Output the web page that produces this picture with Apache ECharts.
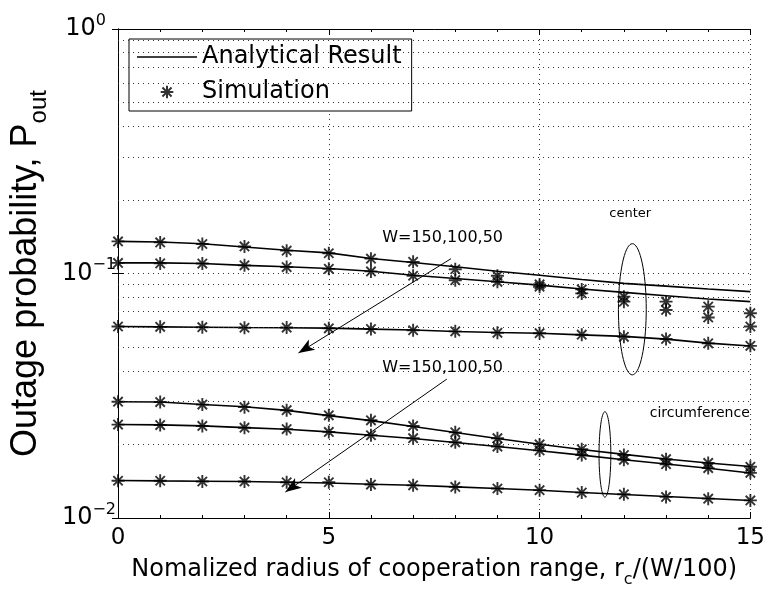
<!DOCTYPE html>
<html>
<head>
<meta charset="utf-8">
<script src="https://cdn.jsdelivr.net/npm/echarts@6/dist/echarts.min.js"></script>
<style>
  html, body { margin: 0; padding: 0; background: #fff; }
  #chart { width: 768px; height: 593px; }
</style>
</head>
<body>
<div id="chart"></div>
<script>
// normalized radius r_c/(W/100)
const radius = [0, 1, 2, 3, 4, 5, 6, 7, 8, 9, 10, 11, 12, 13, 14, 15]

// center: analytical / simulation for W = 150, 100, 50
const cenA150 = [0.1353, 0.1346, 0.1324, 0.1284, 0.1244, 0.1214, 0.1151, 0.1109, 0.1065, 0.1022, 0.0984, 0.0945, 0.0911, 0.0888, 0.0864, 0.0843]
const cenS150 = [0.1353, 0.1340, 0.1320, 0.1290, 0.1240, 0.1210, 0.1150, 0.1116, 0.1041, 0.0979, 0.0902, 0.0861, 0.0804, 0.0767, 0.0732, 0.0688]
const cenA100 = [0.1105, 0.1105, 0.1098, 0.1080, 0.1065, 0.1048, 0.1022, 0.0984, 0.0954, 0.0925, 0.0896, 0.0864, 0.0837, 0.0811, 0.0786, 0.0767]
const cenS100 = [0.1105, 0.1100, 0.1098, 0.1080, 0.1062, 0.1045, 0.1020, 0.0979, 0.0939, 0.0925, 0.0883, 0.0829, 0.0767, 0.0709, 0.0661, 0.0607]
const cenA50 = [0.0607, 0.0605, 0.0603, 0.0601, 0.0600, 0.0598, 0.0592, 0.0587, 0.0579, 0.0574, 0.0570, 0.0561, 0.0553, 0.0539, 0.0519, 0.0505]
const cenS50 = [0.0607, 0.0605, 0.0603, 0.0600, 0.0601, 0.0597, 0.0593, 0.0586, 0.0580, 0.0572, 0.0570, 0.0562, 0.0551, 0.0540, 0.0518, 0.0506]

// circumference: analytical / simulation for W = 150, 100, 50
const cirA150 = [0.02989, 0.02980, 0.02914, 0.02852, 0.02755, 0.02622, 0.02502, 0.02366, 0.02237, 0.02114, 0.02004, 0.01907, 0.01820, 0.01742, 0.01678, 0.01623]
const cirS150 = [0.0299, 0.0298, 0.0291, 0.0284, 0.0276, 0.0263, 0.0251, 0.0238, 0.0224, 0.0212, 0.0200, 0.0191, 0.0181, 0.0174, 0.0168, 0.0162]
const cirA100 = [0.02411, 0.02404, 0.02381, 0.02343, 0.02307, 0.02251, 0.02181, 0.02114, 0.02036, 0.01962, 0.01885, 0.01808, 0.01732, 0.01662, 0.01597, 0.01528]
const cirS100 = [0.0241, 0.0240, 0.0238, 0.0234, 0.0231, 0.0225, 0.0218, 0.0212, 0.0204, 0.0196, 0.0189, 0.0181, 0.0173, 0.0166, 0.0160, 0.0153]
const cirA50 = [0.01423, 0.01418, 0.01414, 0.01410, 0.01400, 0.01391, 0.01374, 0.01361, 0.01340, 0.01320, 0.01299, 0.01272, 0.01248, 0.01225, 0.01202, 0.01180]
const cirS50 = [0.0142, 0.0142, 0.0141, 0.0141, 0.0140, 0.0140, 0.0137, 0.0136, 0.0134, 0.0132, 0.0130, 0.0127, 0.0125, 0.0122, 0.0120, 0.0118]

// minor log grid lines
const yMinorGrid = [0.02, 0.03, 0.04, 0.05, 0.06, 0.07, 0.08, 0.09, 0.2, 0.3, 0.4, 0.5, 0.6, 0.7, 0.8, 0.9]

// annotations (data coords)
const arrowUpper = [[7.9, 0.115], [4.28, 0.0473]]
const arrowLower = [[7.8, 0.0370], [3.97, 0.01276]]
const labelW = 'W=150,100,50'
const labelUpperPos = [7.7, 0.1400]
const labelLowerPos = [7.7, 0.0411]
const labelCenterPos = [12.15, 0.176]
const labelCircPos = [13.8, 0.0267]
// ellipses: [x, yTop, yBottom, half width in x units]
const ellipses = [[12.2, 0.1324, 0.0385, 0.33], [11.55, 0.0272, 0.01217, 0.14]]

const FONT = 'DejaVu Sans'
const STAR = 'path://M0,-1L0,1M-1,0L1,0M-0.72,-0.72L0.72,0.72M-0.72,0.72L0.72,-0.72'
const STAR_LEGEND = 'path://M-1.9,-1.9M1.9,1.9M0,-1L0,1M-1,0L1,0M-0.72,-0.72L0.72,0.72M-0.72,0.72L0.72,-0.72'
const LINE_LEGEND = 'path://M0,0L60,0L60,1.6L0,1.6Z'

const pairs = (ys) => radius.map((x, i) => [x, ys[i]])

const lineSeries = (ys) => ({
  name: 'Analytical Result',
  type: 'line',
  data: pairs(ys),
  symbol: 'none',
  lineStyle: { color: '#000', width: 1.6 },
  itemStyle: { color: '#000' },
  z: 3
})

const simSeries = (ys) => ({
  name: 'Simulation',
  type: 'scatter',
  data: pairs(ys),
  symbol: STAR,
  symbolSize: 13,
  itemStyle: { color: 'rgba(0,0,0,0)', borderColor: '#000', borderWidth: 1.9 },
  z: 4
})

// 10^e labels; the base "10" stays aligned, so a short exponent gets right padding
const supFmt = (v) => {
  const e = Math.round(Math.log10(v))
  return e < 0 ? '10{sup|\u2212' + (-e) + '}' : '10{supPad|' + e + '}'
}

const chart = echarts.init(document.getElementById('chart'))

const option = {
  animation: false,
  textStyle: { fontFamily: FONT },
  grid: { left: 117, right: 16, top: 29, bottom: 72 },
  legend: {
    left: 129,
    top: 39,
    orient: 'vertical',
    data: [
      { name: 'Analytical Result', icon: LINE_LEGEND },
      { name: 'Simulation', icon: STAR_LEGEND }
    ],
    backgroundColor: '#fff',
    borderColor: '#000',
    borderWidth: 1,
    padding: [6, 10, 6, 8],
    itemGap: 10,
    itemWidth: 60,
    itemHeight: 24,
    textStyle: { fontSize: 24, color: '#000', fontFamily: FONT }
  },
  xAxis: [{
    type: 'value',
    min: 0,
    max: 15,
    interval: 5,
    name: 'Nomalized radius of cooperation range, r{sub|c}/(W/100)',
    nameLocation: 'middle',
    nameGap: 34,
    nameTextStyle: {
      fontSize: 24, color: '#000', fontFamily: FONT,
      rich: { sub: { fontSize: 16, padding: [20, 0, 0, 0], fontFamily: FONT, color: '#000' } }
    },
    axisLine: { lineStyle: { color: '#000', width: 1 } },
    axisTick: { inside: true, length: 6, lineStyle: { color: '#000' } },
    minorTick: { show: true, splitNumber: 5, length: 3, lineStyle: { color: '#000' } },
    axisLabel: { fontSize: 23, color: '#000', margin: 9, fontFamily: FONT },
    splitLine: { show: true, lineStyle: { color: '#333', type: [1, 4], width: 1 } }
  }, {
    type: 'value',
    position: 'top',
    min: 0,
    max: 15,
    interval: 5,
    axisLine: { show: true, lineStyle: { color: '#000', width: 1 } },
    axisTick: { inside: true, length: 6, lineStyle: { color: '#000' } },
    minorTick: { show: true, splitNumber: 5, length: 3, lineStyle: { color: '#000' } },
    axisLabel: { show: false },
    splitLine: { show: false }
  }],
  yAxis: [{
    type: 'log',
    logBase: 10,
    min: 0.01,
    max: 1,
    name: 'Outage probability, P{sub|out}',
    nameLocation: 'middle',
    nameRotate: 90,
    nameGap: 60,
    nameTextStyle: {
      fontSize: 36, color: '#000', fontFamily: 'Liberation Sans',
      rich: { sub: { fontSize: 24, padding: [26, 0, 0, 0], fontFamily: 'Liberation Sans', color: '#000' } }
    },
    axisLine: { show: true, lineStyle: { color: '#000', width: 1 } },
    axisTick: { inside: true, length: 6, lineStyle: { color: '#000' } },
    axisLabel: {
      color: '#000',
      margin: 2,
      formatter: supFmt,
      rich: {
        sup: { fontSize: 16, padding: [0, 0, 17, 0], fontFamily: FONT, color: '#000' },
        supPad: { fontSize: 16, padding: [0, 10, 17, 0], fontFamily: FONT, color: '#000' }
      },
      fontSize: 24,
      fontFamily: FONT
    },
    splitLine: { show: true, lineStyle: { color: '#333', type: [1, 4], width: 1 } }
  }, {
    type: 'log',
    logBase: 10,
    min: 0.01,
    max: 1,
    position: 'right',
    axisLine: { show: true, lineStyle: { color: '#000', width: 1 } },
    axisTick: { inside: true, length: 6, lineStyle: { color: '#000' } },
    axisLabel: { show: false },
    splitLine: { show: false }
  }],
  series: [
    {
      name: 'grid',
      type: 'line',
      data: [],
      silent: true,
      markLine: {
        silent: true,
        symbol: ['none', 'none'],
        label: { show: false },
        lineStyle: { color: '#333', type: [1, 4], width: 1 },
        data: yMinorGrid.map(v => ({ yAxis: v }))
      },
      z: 1
    },
    lineSeries(cenA150), lineSeries(cenA100), lineSeries(cenA50),
    lineSeries(cirA150), lineSeries(cirA100), lineSeries(cirA50),
    simSeries(cenS150), simSeries(cenS100), simSeries(cenS50),
    simSeries(cirS150), simSeries(cirS100), simSeries(cirS50),
    {
      name: 'annot',
      type: 'line',
      data: [],
      silent: true,
      markLine: {
        silent: true,
        symbol: ['none', 'arrow'],
        symbolSize: [9, 16],
        label: { show: false },
        lineStyle: { color: '#000', type: 'solid', width: 1 },
        data: [
          [{ coord: arrowUpper[0] }, { coord: arrowUpper[1] }],
          [{ coord: arrowLower[0] }, { coord: arrowLower[1] }]
        ]
      },
      markPoint: {
        silent: true,
        symbolSize: 0,
        label: { show: true, position: 'inside', color: '#000', fontSize: 14, fontFamily: FONT },
        data: [
          { coord: labelUpperPos, value: labelW, label: { formatter: labelW, fontSize: 16 } },
          { coord: labelLowerPos, value: labelW, label: { formatter: labelW, fontSize: 16 } },
          { coord: labelCenterPos, value: 'center', label: { formatter: 'center', fontSize: 13 } },
          { coord: labelCircPos, value: 'circumference', label: { formatter: 'circumference' } }
        ]
      },
      z: 5
    },
    {
      name: 'ellipse',
      type: 'custom',
      silent: true,
      data: ellipses,
      encode: { x: 0, y: [1, 2] },
      renderItem: (params, api) => {
        const top = api.coord([api.value(0), api.value(1)])
        const bot = api.coord([api.value(0), api.value(2)])
        const left = api.coord([api.value(0) - api.value(3), api.value(1)])
        const cx = top[0]
        const cy = (top[1] + bot[1]) / 2
        const ry = (bot[1] - top[1]) / 2
        const rx = top[0] - left[0]
        const pts = []
        for (let i = 0; i < 72; i++) {
          const a = (i / 72) * Math.PI * 2
          pts.push([cx + rx * Math.cos(a), cy + ry * Math.sin(a)])
        }
        return {
          type: 'polygon',
          shape: { points: pts },
          style: { fill: 'none', stroke: '#000', lineWidth: 1 }
        }
      },
      z: 5
    }
  ]
}

chart.setOption(option)
</script>
</body>
</html>
